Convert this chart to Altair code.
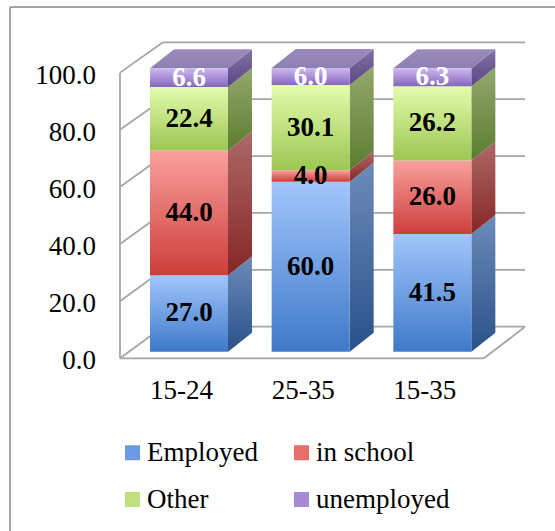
import altair as alt
import pandas as pd

# ---- chart values -------------------------------------------------------
groups = ["15-24", "25-35", "15-35"]
series = ["Employed", "in school", "Other", "unemployed"]
employed = [27.0, 60.0, 41.5]
in_school = [44.0, 4.0, 26.0]
other = [22.4, 30.1, 26.2]
unemployed = [6.6, 6.0, 6.3]
tick_values = [0, 20, 40, 60, 80, 100]

values_by_series = {
    "Employed": employed,
    "in school": in_school,
    "Other": other,
    "unemployed": unemployed,
}

# ---- 3-D look: scale mapping and depth offsets -------------------------
CAT_PX = 121.67          # pixels between neighbouring bars
VAL_PX = 2.834           # pixels per percentage point
X_ORIGIN, Y_ORIGIN = 189.0, 351.7   # front centre of the first bar at 0

HALF_W = 39 / CAT_PX     # half width of a bar's front face
DEPTH_X = 24 / CAT_PX    # bar depth, horizontal part
DEPTH_Y = 19 / VAL_PX    # bar depth, vertical part

FRONT_LEFT = (120 - X_ORIGIN) / CAT_PX
BACK_LEFT = (163 - X_ORIGIN) / CAT_PX
BACK_RIGHT = (525 - X_ORIGIN) / CAT_PX
FLOOR_RIGHT = (484 - X_ORIGIN) / CAT_PX


def front_plane(v):
    return v * 1.008 - 6.6 / VAL_PX


def back_plane(v):
    return v * 1.0035 + 25 / VAL_PX


FONT = "Liberation Serif"
GRID = "#A6A6A6"

front_colors = {
    "Employed": ("#A2C6FC", "#3E79C9"),
    "in school": ("#F9A09D", "#CD3E3B"),
    "Other": ("#E3FCAC", "#9DC653"),
    "unemployed": ("#CDB9F0", "#8666BA"),
}
side_colors = {
    "Employed": ("#6C8BBA", "#2A5189"),
    "in school": ("#AE6868", "#852726"),
    "Other": ("#93A86E", "#5C7C30"),
    "unemployed": ("#8270A6", "#5B4783"),
}
top_colors = ("#9A8BBC", "#8E7FB1")
legend_colors = ["#6A9BE4", "#E66F6C", "#C0E07E", "#A68BD4"]


def vgrad(top, bottom):
    return {
        "gradient": "linear",
        "x1": 0, "y1": 0, "x2": 0, "y2": 1,
        "stops": [{"offset": 0, "color": top}, {"offset": 1, "color": bottom}],
    }


x_scale = alt.Scale(domain=[0, 2], range=[X_ORIGIN, X_ORIGIN + 2 * CAT_PX])
y_scale = alt.Scale(domain=[0, 100], range=[Y_ORIGIN, Y_ORIGIN - 100 * VAL_PX])


def X(field):
    return alt.X(field, type="quantitative", scale=x_scale, axis=None)


def Y(field):
    return alt.Y(field, type="quantitative", scale=y_scale, axis=None)


def X2(field):
    return alt.X2(field)


def Y2(field):
    return alt.Y2(field)


# ---- tables built from the values -------------------------------------
seg_rows, side_rows, top_rows = [], [], []
for i, g in enumerate(groups):
    base = 0.0
    for s in series:
        v = values_by_series[s][i]
        lo, hi = base, base + v
        key = f"{g}|{s}"
        seg_rows.append(dict(i=i, group=g, series=s, value=v, lo=lo, hi=hi,
                             mid=(lo + hi) / 2, xl=i - HALF_W, xr=i + HALF_W,
                             label=f"{v:.1f}"))
        side_rows.append(dict(key=key, series=s, x=i + HALF_W, lo=lo, hi=hi))
        side_rows.append(dict(key=key, series=s, x=i + HALF_W + DEPTH_X,
                              lo=lo + DEPTH_Y, hi=hi + DEPTH_Y))
        base = hi
    top_rows.append(dict(key=g, y=base, xl=i - HALF_W, xr=i + HALF_W))
    top_rows.append(dict(key=g, y=base + DEPTH_Y, xl=i - HALF_W + DEPTH_X,
                         xr=i + HALF_W + DEPTH_X))

segs = pd.DataFrame(seg_rows)
sides = pd.DataFrame(side_rows)
tops = pd.DataFrame(top_rows)

wall_rows = []
for v in tick_values:
    wall_rows.append(dict(x=BACK_LEFT, y=back_plane(v), x2=BACK_RIGHT, y2=back_plane(v)))
    wall_rows.append(dict(x=FRONT_LEFT, y=front_plane(v), x2=BACK_LEFT, y2=back_plane(v)))
wall_rows.append(dict(x=FRONT_LEFT, y=front_plane(0), x2=FRONT_LEFT, y2=front_plane(100)))
wall_rows.append(dict(x=FRONT_LEFT, y=front_plane(0), x2=FLOOR_RIGHT, y2=front_plane(0)))
wall_rows.append(dict(x=FLOOR_RIGHT, y=front_plane(0), x2=BACK_RIGHT, y2=back_plane(0)))
walls = pd.DataFrame(wall_rows)

ytick_df = pd.DataFrame({
    "x": [(96 - X_ORIGIN) / CAT_PX] * len(tick_values),
    "y": [front_plane(v) - 1.1 for v in tick_values],
    "text": [f"{v:.1f}" for v in tick_values],
})
cat_df = pd.DataFrame({
    "x": [i - 7.5 / CAT_PX for i in range(len(groups))],
    "y": [-39.3 / VAL_PX] * len(groups),
    "text": groups,
})
legend_df = pd.DataFrame({"series": series, "x": [0.0] * 4, "y": [0.0] * 4})

# ---- layers ---------------------------------------------------------------
layers = []

layers.append(
    alt.Chart(walls).mark_rule(color=GRID, strokeWidth=1.8).encode(
        x=X("x"), y=Y("y"), x2=X2("x2"), y2=Y2("y2"))
)

for s in series:
    layers.append(
        alt.Chart(sides[sides.series == s]).mark_area(
            orient="vertical", color=vgrad(*side_colors[s])).encode(
            x=X("x"), y=Y("lo"), y2=Y2("hi"), detail="key:N")
    )

layers.append(
    alt.Chart(tops).mark_area(orient="horizontal", color=vgrad(*top_colors)).encode(
        y=Y("y"), x=X("xl"), x2=X2("xr"), detail="key:N")
)

for s in series:
    layers.append(
        alt.Chart(segs[segs.series == s]).mark_rect(color=vgrad(*front_colors[s])).encode(
            x=X("xl"), x2=X2("xr"), y=Y("lo"), y2=Y2("hi"))
    )

label_style = dict(font=FONT, fontSize=27, fontWeight="bold", align="center",
                   baseline="middle")
layers.append(
    alt.Chart(segs[segs.series != "unemployed"]).mark_text(color="black", **label_style)
    .encode(x=X("i"), y=Y("mid"), text="label:N")
)
layers.append(
    alt.Chart(segs[segs.series == "unemployed"]).mark_text(color="white", **label_style)
    .encode(x=X("i"), y=Y("mid"), text="label:N")
)

layers.append(
    alt.Chart(ytick_df).mark_text(font=FONT, fontSize=27, color="black",
                                  align="right", baseline="middle")
    .encode(x=X("x"), y=Y("y"), text="text:N")
)
layers.append(
    alt.Chart(cat_df).mark_text(font=FONT, fontSize=27, color="black",
                                align="center", baseline="middle")
    .encode(x=X("x"), y=Y("y"), text="text:N")
)

layers.append(
    alt.Chart(legend_df).mark_rect().encode(
        x=X("x"), x2=X2("x"), y=Y("y"), y2=Y2("y"),
        color=alt.Color(
            "series:N",
            scale=alt.Scale(domain=series, range=legend_colors),
            legend=alt.Legend(
                title=None, orient="none", legendX=119, legendY=439,
                direction="horizontal", values=series,
                columns=2, columnPadding=30, rowPadding=19,
                symbolType="square", symbolSize=225, symbolStrokeWidth=0,
                labelFont=FONT, labelFontSize=27, labelColor="black",
                labelOffset=1, labelLimit=300, padding=0,
            ),
        ),
    )
)

# chart frame (left and top border)
layers.append(
    alt.Chart(legend_df.head(1)).mark_rule(color="#A6A6A6", strokeWidth=2).encode(
        x=alt.value(10), y=alt.value(7), y2=alt.value(545))
)
layers.append(
    alt.Chart(legend_df.head(1)).mark_rule(color="#A6A6A6", strokeWidth=2).encode(
        x=alt.value(10), x2=alt.value(560), y=alt.value(7))
)

chart = alt.layer(*layers).properties(
    width=555, height=531, padding=0,
    autosize=alt.AutoSizeParams(type="none"),
    background="white",
).configure_view(stroke=None)

chart.save("out.html", embed_options={"renderer": "svg", "actions": False})
